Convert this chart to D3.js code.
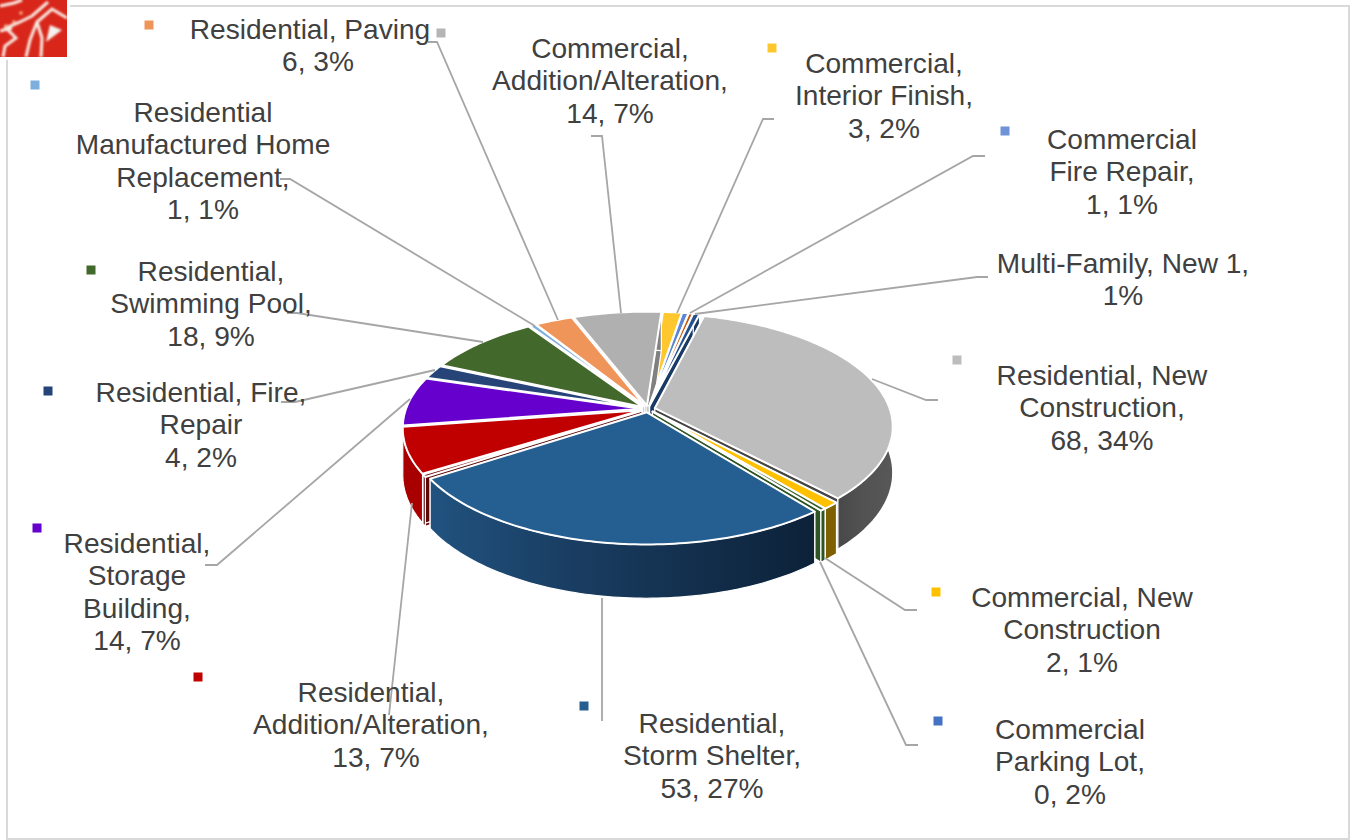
<!DOCTYPE html>
<html><head><meta charset="utf-8">
<script src="https://cdn.jsdelivr.net/npm/d3@7/dist/d3.min.js"></script>
<style>html,body{margin:0;padding:0;background:#fff}svg{display:block}text{font-family:"Liberation Sans",Arial,sans-serif;font-size:28.1px;fill:#404040;text-anchor:middle}</style>
</head><body><svg id="c" width="1353" height="840"></svg>
<script>
// Slices clockwise from the top-right; unnamed slivers are visible in the picture but carry no label
const sliceNames=["Multi-Family, New","Residential, New Construction","Commercial, New Construction","Commercial, Parking Lot","Residential, Storm Shelter","(sliver)","Residential, Addition/Alteration","Residential, Storage Building","Residential, Fire, Repair","Residential, Swimming Pool","Residential Manufactured Home Replacement","Residential, Paving","Commercial, Addition/Alteration","Commercial, Interior Finish","Commercial Fire Repair","(sliver 2)"];
const sliceValues=[1,68,2,0.7,53,0.7,13,14,4,18,1,6,14,3,1,0.7];
const topColors=["#24508f","#bdbdbd","#ffc000","#36602a","#255e91","#7a0a0a","#c00000","#6600cc","#264478","#43682b","#7cafdd","#f0955a","#b0b0b0","#ffc72e","#5b86d4","#c55a11"];
const wallColors=["#1a3a66","url(#gGrey)","#7f6000","#2f5424","url(#gBlue)","#5e0808","#a80000","#4a0095","#1a3055","#2f4a1e","#5a80a0","#b06a3c","#808080","#b08a20","#3f5f96","#8a3f0c"];

const labelLines=[
 ["Residential, Paving","6, 3%"],
 ["Commercial,","Addition/Alteration,","14, 7%"],
 ["Commercial,","Interior Finish,","3, 2%"],
 ["Commercial","Fire Repair,","1, 1%"],
 ["Multi-Family, New 1,","1%"],
 ["Residential, New","Construction,","68, 34%"],
 ["Commercial, New","Construction","2, 1%"],
 ["Commercial","Parking Lot,","0, 2%"],
 ["Residential,","Storm Shelter,","53, 27%"],
 ["Residential,","Addition/Alteration,","13, 7%"],
 ["Residential,","Storage","Building,","14, 7%"],
 ["Residential, Fire,","Repair","4, 2%"],
 ["Residential,","Swimming Pool,","18, 9%"],
 ["Residential","Manufactured Home","Replacement,","1, 1%"]
];
// layout of labels: centre x, first baseline, shift of the last line
const labelAnchors=[[310,39,8],[610,58,0],[884,73,0],[1122,149,0],[1123,273,0],[1102,385,0],[1082,607,0],[1070,739,0],[712,733,0],[371,702,5],[137,553,0],[201,402,0],[211,281,0],[203,122,0]];
const markerAt=[[149,25,"#f0955a"],[441,33,"#b5b5b5"],[772,48,"#ffc72e"],[1005,131,"#6f93d6"],[957,360,"#bdbdbd"],[936,592,"#ffc000"],[938,721,"#4472c4"],[584,706,"#255e91"],[198,677,"#c00000"],[37,528,"#6600cc"],[48,391,"#264478"],[91,270,"#43682b"],[35,85,"#7cafdd"]];
const leaderPaths=[
 [[428,42],[437,42],[558,320]],
 [[591,136],[602,136],[621,313]],
 [[774,119],[763,119],[677,313]],
 [[985,156],[973,156],[690,313]],
 [[988,277],[977,277],[695,314]],
 [[872,379],[926,400],[938,400]],
 [[825,558],[905,610],[917,610]],
 [[820,562],[906,745],[918,745]],
 [[602,598],[602,721]],
 [[412,503],[389,715]],
 [[205,565],[217,565],[410,399]],
 [[281,402],[295,402],[435,370]],
 [[287,313],[297,313],[483,342]],
 [[280,179],[290,179],[535,326]]
];

const svg=d3.select("#c");
const defs=svg.append("defs");
function grad(id,stops,x1,x2){const g=defs.append("linearGradient").attr("id",id).attr("gradientUnits","userSpaceOnUse").attr("x1",x1).attr("x2",x2).attr("y1",0).attr("y2",0);
 stops.forEach((c,i)=>g.append("stop").attr("offset",i/(stops.length-1)).attr("stop-color",c));}
grad("gBlue",["#21527f","#1a3f64","#132f4d","#0c2138"],430,820);
grad("gGrey",["#454545","#525252","#585858"],830,895);
defs.append("filter").attr("id","soft").append("feGaussianBlur").attr("stdDeviation",0.9);

// frame
svg.append("rect").attr("x",7).attr("y",6).attr("width",1342).attr("height",833).attr("fill","#fff").attr("stroke","#d9d9d9").attr("stroke-width",2);

// logo fragment, top-left
svg.append("rect").attr("width",67).attr("height",57).attr("fill","#d9261a");
const logo=svg.append("g").attr("filter","url(#soft)").attr("clip-path","inset(0 0 0 0)");
[[[0,6],[14,3],[22,0]],[[3,57],[5,46],[16,38],[6,28],[20,22],[32,16],[48,2]],[[26,57],[30,40],[37,22],[52,9],[67,18]],[[41,57],[42,38],[37,22]],[[0,31],[12,28]]].forEach(p=>{
 logo.append("path").attr("d",d3.line()(p)).attr("fill","none").attr("stroke","#f7ece4").attr("stroke-width",3);
});
logo.append("path").attr("d",d3.line()([[46,42],[62,30],[50,25]])+"Z").attr("fill","#f4f2ee");
[[21,13],[14,22],[6,26]].forEach(p=>logo.append("circle").attr("cx",p[0]).attr("cy",p[1]).attr("r",1.8).attr("fill","#f6b38a"));
svg.append("rect").attr("x",67).attr("y",0).attr("width",3).attr("height",57).attr("fill","#fff");
svg.append("rect").attr("x",0).attr("y",57).attr("width",67).attr("height",3).attr("fill","#fff");
svg.append("path").attr("d","M7 60V70").attr("stroke","#d9d9d9").attr("stroke-width",2);
svg.append("path").attr("d","M70 6H80").attr("stroke","#d9d9d9").attr("stroke-width",2);

// pie geometry
const cx=648,cy=409,Rx=235,Ry=110,k=0.159,depth=45,explode=0.03,a0=12.5*Math.PI/180;
const proj=(x,y,z=0)=>{const s=1/(1-k*y);return [cx+Rx*x*s,cy+Ry*y*s+z*s];};
const arcs=d3.pie().sort(null).value(d=>d).startAngle(a0).endAngle(a0+2*Math.PI)(sliceValues);
const line=d3.line();
const gPie=svg.append("g");
const slices=arcs.map((a,i)=>{
  const mid=(a.startAngle+a.endAngle)/2;
  const ox=explode*Math.sin(mid),oy=-explode*Math.cos(mid);
  const n=Math.max(2,Math.ceil((a.endAngle-a.startAngle)/0.02));
  const ang=d3.range(n+1).map(j=>a.startAngle+(a.endAngle-a.startAngle)*j/n);
  const pts=ang.map(t=>[ox+Math.sin(t),oy-Math.cos(t)]);
  return {i,mid,ox,oy,pts};
}).sort((p,q)=>(-Math.cos(p.mid))-(-Math.cos(q.mid)));
slices.forEach(s=>{
  const g=gPie.append("g");
  const face=(pp,fill)=>g.append("path").attr("d",line(pp)+"Z").attr("fill",fill).attr("stroke","#fff").attr("stroke-width",1.2).attr("stroke-linejoin","round");
  const apexTop=proj(s.ox,s.oy),apexBot=proj(s.ox,s.oy,depth);
  const last=s.pts[s.pts.length-1],first=s.pts[0];
  face([apexTop,proj(...first),proj(first[0],first[1],depth),apexBot],wallColors[s.i]);
  face([apexTop,proj(...last),proj(last[0],last[1],depth),apexBot],wallColors[s.i]);
  const wallT=s.pts.map(p=>proj(p[0],p[1]));
  const wallB=s.pts.map(p=>proj(p[0],p[1],depth)).reverse();
  face(wallT.concat(wallB),wallColors[s.i]);
  g.append("path").attr("d",line([apexTop].concat(wallT))+"Z").attr("fill",topColors[s.i]).attr("stroke","#fff").attr("stroke-width",2).attr("stroke-linejoin","round");
});

// leader lines
svg.append("g").selectAll("path").data(leaderPaths).join("path").attr("d",d=>line(d)).attr("fill","none").attr("stroke","#a6a6a6").attr("stroke-width",1.8);

// markers
svg.append("g").selectAll("rect").data(markerAt).join("rect").attr("x",d=>d[0]-4.5).attr("y",d=>d[1]-4.5).attr("width",9).attr("height",9).attr("fill",d=>d[2]);

// labels
const lg=svg.append("g");
labelLines.forEach((ls,i)=>{
  const t=lg.append("text");
  ls.forEach((l,j)=>t.append("tspan").attr("x",labelAnchors[i][0]+(j===ls.length-1?labelAnchors[i][2]:0)).attr("y",labelAnchors[i][1]+j*32.3).text(l));
});
</script></body></html>
